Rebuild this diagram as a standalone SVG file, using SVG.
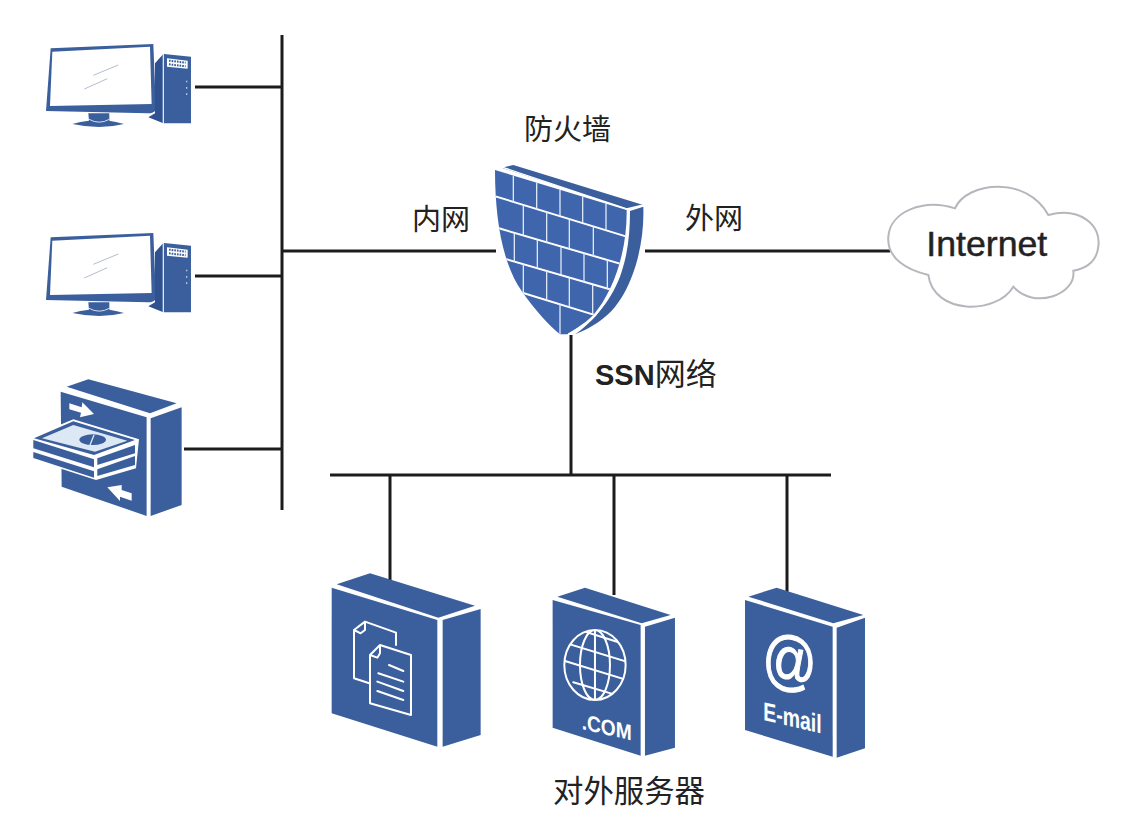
<svg xmlns="http://www.w3.org/2000/svg" width="1123" height="826" viewBox="0 0 1123 826">
<style>
.b{fill:#3b5f9d}
.d{fill:#2f5190}
.w{fill:#fff}
.wl{fill:none;stroke:#fff;stroke-width:6;stroke-linecap:round;stroke-linejoin:round}
.wf{fill:none;stroke:#dce8f6;stroke-width:4}
.c{stroke:#1c1c1c;stroke-width:3;fill:none}
.t{font-family:"Noto Sans CJK SC","Liberation Sans",sans-serif;fill:#222}
.l{font-family:"Liberation Sans",Arial,sans-serif;fill:#fff;font-weight:bold}
</style>
<defs>
<g id="pc">
<path class="b" d="M92,55 L400,42 L408,240 Q400,250 385,250 L78,243Z"/>
<path class="w" d="M97,65 L390,50 L395,222 L90,228Z"/>
<path d="M220,136 L295,105 M193,177 L262,146" stroke="#8c9cb5" stroke-width="2" fill="none"/>
<path class="b" d="M205,250 L268,250 L268,272 Q292,276 312,282 Q240,300 157,282 Q180,274 207,272Z"/>
<path d="M207,268 Q238,285 268,268" fill="none" stroke="#cfe0f2" stroke-width="3"/>
<path class="d" d="M405,100 L430,72 L430,280 L385,262 L405,250Z"/>
<path class="b" d="M432,72 L513,80 L513,280 L432,280Z"/>
<path d="M430,72 L430,280" stroke="#dbe7f5" stroke-width="4"/>
<path class="w" d="M441,85 L503,92 L503,116 L441,110Z"/>
<path d="M447,92 L497,98 M447,103 L497,109" stroke="#3b5f9d" stroke-width="6" stroke-dasharray="5 3"/>
<path d="M500,152 L500,205" stroke="#b9cde6" stroke-width="4" stroke-dasharray="5 14"/>
</g>
<clipPath id="sf"><path d="M45,45 L440,165 C442,290 400,410 340,480 C310,510 280,525 262,538 L240,538 C205,510 165,465 125,408 C70,330 45,200 45,45Z"/></clipPath>
<clipPath id="gc"><ellipse cx="825" cy="300" rx="92" ry="105"/></clipPath>
</defs>
<rect width="1123" height="826" fill="#fff"/>
<g id="connectors" class="c">
<path d="M282,35V510M195,87H282M195,276H282M184,449H282M282,251H496M645,251H890M571,335V475M330,475H831M390,475V580M614,475V595M787,475V592"/>
</g>
<g id="pc1" transform="translate(20,30) scale(.3333)"><use href="#pc"/></g>
<g id="pc2" transform="translate(20,219) scale(.3333)"><use href="#pc"/></g>
<g id="storage" transform="translate(20,370) scale(.3333)">
<path class="b" d="M140,50 L205,28 L470,100 L390,130Z"/>
<path class="b" d="M122,65 L380,142 L380,438 L125,350Z"/>
<path class="b" d="M392,145 L485,112 L485,405 L392,438Z"/>
<path class="w" d="M148,100 L185,112 L187,97 L222,132 L180,142 L183,128 L148,118Z"/>
<path class="w" d="M335,392 L300,380 L300,393 L262,352 L305,345 L305,360 L335,370Z"/>
<path class="w" d="M35,200 L160,148 L357,208 L348,295 L228,330 L35,268Z"/>
<path class="b" d="M42,205 L160,154 L345,210 L222,255Z"/>
<path d="M66,205 L160,165 L322,212 L225,245Z" fill="#dde8f5"/>
<ellipse cx="218" cy="209" rx="40" ry="16" class="b"/>
<path d="M222,195 L210,225" stroke="#dde8f5" stroke-width="4"/>
<path class="b" d="M40,210 L222,268 L222,292 L40,235Z"/>
<path class="b" d="M40,246 L222,304 L222,323 L40,264Z"/>
<path class="b" d="M232,265 L345,225 L345,250 L232,285Z"/>
<path class="b" d="M232,298 L345,258 L345,285 L232,318Z"/>
</g>
<g id="firewall" transform="translate(480,155) scale(.3333)">
<path class="b" d="M65,38 L100,30 L490,150 L445,162Z"/>
<path class="b" d="M450,168 L490,155 C495,300 440,440 370,490 C345,510 320,525 285,538 C340,500 400,430 425,350 C445,290 450,230 450,168Z"/>
<path d="M45,45 L440,165 C442,290 400,410 340,480 C310,510 280,525 262,538 L240,538 C205,510 165,465 125,408 C70,330 45,200 45,45Z" fill="#3f66ac"/>
<g clip-path="url(#sf)">
<path class="wl" d="M40,122 L440,245M40,215 L440,332M70,310 L420,412M110,408 L360,485"/>
<path class="wf" d="M100,62V140M170,83V162M240,104V184M308,125V204M378,146V226M130,150V241M200,171V262M268,192V282M340,214V303M103,233V320M172,253V340M243,274V360M312,294V380M382,315V401M130,327V414M200,348V436M268,368V457M338,389V478M240,448V540"/>
</g>
<path d="M62,35 L440,162 L490,150" fill="none" stroke="#fff" stroke-width="4"/>
<path d="M445,165 C447,290 405,410 345,482 C315,512 285,527 265,538" fill="none" stroke="#fff" stroke-width="5"/>
</g>
<g id="internet" transform="translate(880,175) scale(.3333)">
<path d="M25,185 C30,110 130,70 225,100 C260,20 440,0 505,120 C600,95 665,150 655,215 C650,260 620,280 580,287 C590,360 460,405 400,335 C350,420 160,420 145,300 C80,285 20,250 25,185Z" fill="#fff" stroke="#b4b8bc" stroke-width="6"/>
<text x="139" y="244" font-family="'Liberation Sans',Arial,sans-serif" font-size="107" fill="#222" stroke="#222" stroke-width="1.5">Internet</text>
</g>
<g id="server-files" transform="translate(320,565) scale(.3333)">
<path class="b" d="M50,58 L150,25 L465,122 L355,158Z"/>
<path class="b" d="M35,68 L352,165 L352,545 L35,445Z"/>
<path class="b" d="M368,165 L482,132 L482,510 L368,545Z"/>
<path class="wl" d="M148,355 L102,340 L102,195 L135,170 L228,203 L228,240M102,195 L122,205 L135,195 L135,170"/>
<path class="wl" d="M150,270 L180,240 L273,270 L273,450 L150,415ZM150,270 L172,278 L180,265 L180,240"/>
<path class="wl" d="M207,300 L250,318M175,325 L250,350M172,350 L250,378M172,378 L250,405"/>
</g>
<g id="server-web" transform="translate(320,565) scale(.3333)">
<path class="b" d="M712,95 L795,68 L1052,150 L965,175Z"/>
<path class="b" d="M698,105 L962,180 L962,572 L698,488Z"/>
<path class="b" d="M975,185 L1065,158 L1065,548 L975,572Z"/>
<g clip-path="url(#gc)">
<path class="wl" d="M730,232 L920,290M735,288 L920,345M760,352 L905,395M780,195 L905,235"/>
<ellipse cx="825" cy="300" rx="45" ry="105" class="wl"/>
<path class="wl" d="M825,190V410"/>
</g>
<ellipse cx="825" cy="300" rx="92" ry="105" class="wl"/>
<text class="l" transform="translate(785,492) skewY(13)" font-size="66" textLength="150" lengthAdjust="spacingAndGlyphs">.COM</text>
</g>
<g id="server-mail" transform="translate(735,575) scale(.3333)">
<path class="b" d="M40,65 L125,38 L385,120 L295,145Z"/>
<path class="b" d="M30,75 L293,155 L293,545 L30,465Z"/>
<path class="b" d="M305,158 L390,128 L390,520 L305,548Z"/>
<text class="l" transform="translate(82,310) skewY(10) scale(.85,1.05)" font-size="190" stroke="#fff" stroke-width="3" style="font-weight:normal">@</text>
<text class="l" transform="translate(85,435) skewY(13)" font-size="78" textLength="175" lengthAdjust="spacingAndGlyphs">E-mail</text>
</g>
<g id="labels">
<text class="t" x="524" y="140" font-size="29">防火墙</text>
<text class="t" x="412" y="230" font-size="29">内网</text>
<text class="t" x="685" y="229" font-size="29">外网</text>
<text class="t" x="595" y="385" font-size="31"><tspan font-size="29" font-weight="bold" font-family="'Liberation Sans',Arial,sans-serif">SSN</tspan>网络</text>
<text class="t" x="553" y="802" font-size="30.4">对外服务器</text>
</g>
</svg>
